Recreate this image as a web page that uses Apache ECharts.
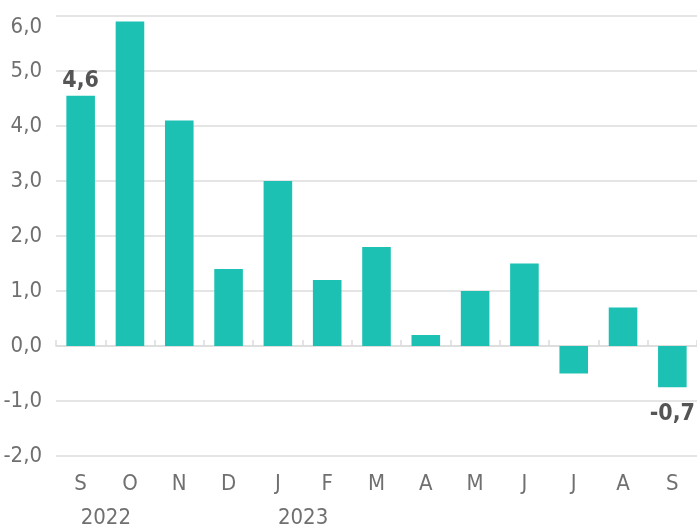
<!DOCTYPE html>
<html>
<head>
<meta charset="utf-8">
<script src="https://cdn.jsdelivr.net/npm/echarts@6/dist/echarts.min.js"></script>
<style>
  html, body { margin: 0; padding: 0; background: #fff; }
  #chart { width: 697px; height: 529px; }
</style>
</head>
<body>
<div id="chart"></div>
<script>
// months Sep 2022 .. Sep 2023
var months = ['S', 'O', 'N', 'D', 'J', 'F', 'M', 'A', 'M', 'J', 'J', 'A', 'S'];
var years = ['2022', '', '', '', '2023', '', '', '', '', '', '', '', ''];
var values = [4.55, 5.9, 4.1, 1.4, 3.0, 1.2, 1.8, 0.2, 1.0, 1.5, -0.5, 0.7, -0.75];
// only first and last bar carry a value label
var labelled = [0, 12];

var font = "'Liberation Sans Narrow', 'DejaVu Sans Condensed', sans-serif";
var gridColor = '#dcdcdc';

function fmt(v) {
  return (Math.round(v * 10) / 10).toFixed(1).replace('.', ',');
}

var barData = values.map(function (v, i) {
  var item = { value: v };
  if (labelled.indexOf(i) >= 0) {
    item.label = {
      show: true,
      position: v < 0 ? 'bottom' : 'top',
      distance: v < 0 ? 15 : 3,
      formatter: function (p) { return fmt(p.value); },
      fontFamily: font,
      fontWeight: 'bold',
      fontSize: 23,
      color: '#555'
    };
  }
  return item;
});

var option = {
  animation: false,
  grid: {
    left: 56,
    right: 0,
    top: 16,
    bottom: 69,
    containLabel: false
  },
  xAxis: [{
    type: 'category',
    data: months,
    axisLine: {
      lineStyle: { color: gridColor, width: 1.5 }
    },
    axisTick: {
      show: true,
      inside: true,
      length: 6,
      lineStyle: { color: gridColor, width: 1.5 }
    },
    axisLabel: {
      margin: 17,
      fontFamily: font,
      fontSize: 22,
      color: '#707070'
    }
  }, {
    type: 'category',
    data: years,
    position: 'bottom',
    axisLine: { show: false },
    axisTick: { show: false },
    axisLabel: {
      margin: 51,
      align: 'left',
      interval: 0,
      fontFamily: font,
      fontSize: 22,
      color: '#707070'
    }
  }],
  yAxis: {
    type: 'value',
    min: -2,
    max: 6,
    interval: 1,
    axisLine: { show: false },
    axisTick: { show: false },
    axisLabel: {
      margin: 14,
      fontFamily: font,
      fontSize: 22,
      color: '#707070',
      formatter: function (v) {
        // top label sits just under its gridline in the original
        return v === 6 ? '{top|' + fmt(v) + '}' : fmt(v);
      },
      rich: {
        top: {
          fontFamily: font,
          fontSize: 22,
          color: '#707070',
          padding: [22, 0, 0, 0]
        }
      }
    },
    splitLine: {
      lineStyle: { color: gridColor, width: 1.5 }
    }
  },
  series: [{
    type: 'bar',
    xAxisIndex: 0,
    data: barData,
    barCategoryGap: '42%',
    itemStyle: {
      color: '#1dc1b3'
    }
  }]
};

var chart = echarts.init(document.getElementById('chart'), null, { renderer: 'canvas' });
chart.setOption(option);
</script>
</body>
</html>
